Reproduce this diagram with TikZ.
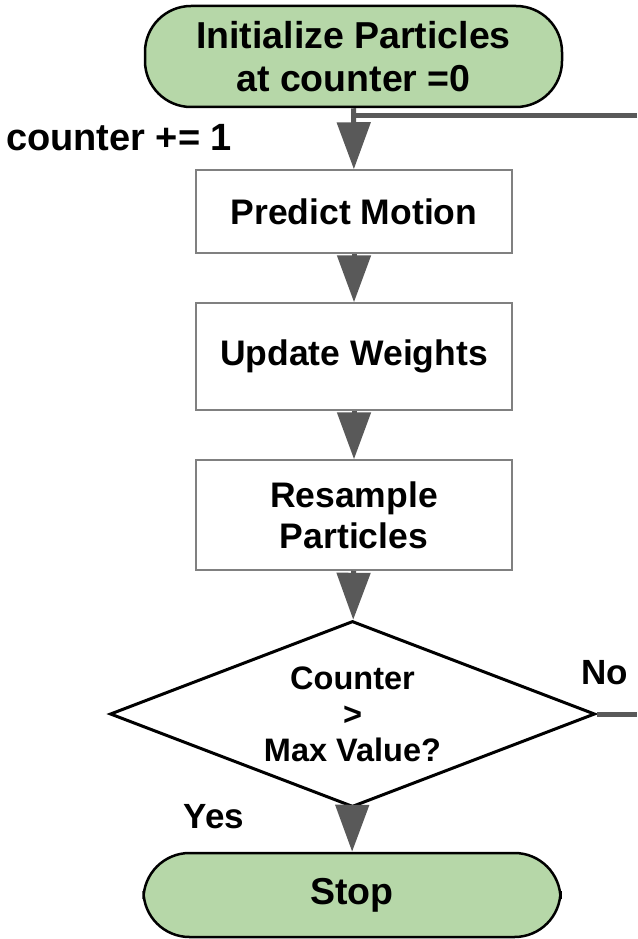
\documentclass[tikz,border=0pt]{standalone}
\usepackage{fontspec}
\setmainfont{Liberation Sans}
\usetikzlibrary{arrows.meta,shapes.geometric}

\definecolor{termgreen}{HTML}{B6D7A8}
\definecolor{flowgray}{HTML}{595959}
\definecolor{boxgray}{HTML}{808080}

\begin{document}
\begin{tikzpicture}[x=1pt,y=-1pt,
	every node/.style={font=\fontsize{35}{41}\selectfont\bfseries},
	terminal/.style={draw=black,line width=2.5pt,fill=termgreen,rounded corners=46pt,minimum width=417pt,align=center,inner sep=0pt,font=\fontsize{37.5}{43}\selectfont\bfseries},
	procbox/.style={draw=boxgray,line width=1.5pt,minimum width=316pt,align=center,inner sep=0pt,font=\fontsize{35.5}{41}\selectfont\bfseries},
	decision/.style={draw=black,line width=3pt,diamond,aspect=2.6,minimum width=485pt,minimum height=186pt,inner sep=0pt,align=center,font=\fontsize{32.5}{36}\selectfont\bfseries},
	flow/.style={draw=flowgray,line width=5pt},
	flowarrow/.style={flow,-{Triangle[width=33pt,length=47pt]}}]

	\useasboundingbox (0,0) rectangle (637,939);

	\node[terminal,minimum height=101pt] (init) at (353.5,56.5) {Initialize Particles\\at counter =0};
	\node[procbox,minimum height=83pt] (predict) at (354,211.5) {Predict Motion};
	\node[procbox,minimum height=107pt] (update) at (354,356.5) {Update Weights};
	\node[procbox,minimum height=110pt] (resample) at (354,515) {Resample\\Particles};
	\node[decision] (check) at (352.5,714) {Counter\\>\\Max Value?};
	\node[terminal,minimum height=84pt] (stop) at (352,895) {Stop};

	\node[font=\fontsize{38}{44}\selectfont\bfseries] (inc) at (119,138) {counter += 1};
	\node (no) at (605,673) {No};
	\node (yes) at (214,817) {Yes};

	% loop back from the decision
	\coordinate (loopin) at (637,116);
	\coordinate (noend) at (637,714);

	\draw[flowarrow] (init) -- (predict);
	\draw[flow] (loopin) -- (init.south |- loopin);
	\draw[flowarrow] (predict) -- (update);
	\draw[flowarrow] (update) -- (resample);
	\draw[flowarrow] (resample) -- (check);
	\draw[flow] (check.east) -- (noend);
	\draw[flowarrow] (check) -- (stop);

\end{tikzpicture}
\end{document}
